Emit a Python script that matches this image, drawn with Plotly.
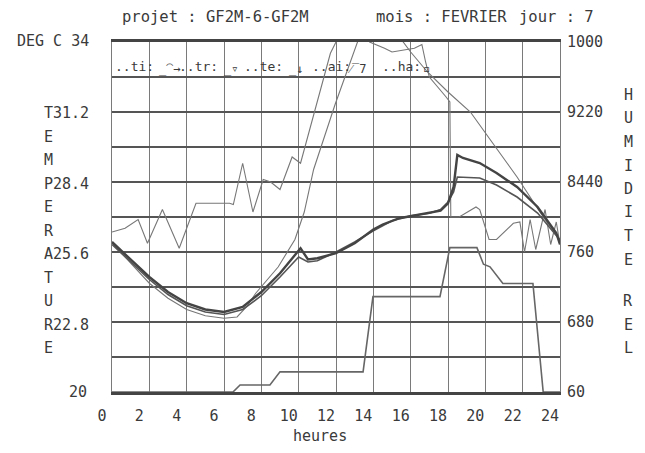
import plotly.graph_objects as go

# ---------------- data ----------------
hours_ti = [0, 1, 2, 3, 4, 5, 6, 7, 8, 9, 10.1, 10.5, 11, 12, 13, 14, 14.5, 15.4, 16.5, 17.6, 18.0, 18.3, 18.5, 18.8, 19.7, 20.6, 21.7, 22.8, 23.8, 24]
ti = [26.0, 25.3, 24.6, 24.0, 23.55, 23.3, 23.2, 23.4, 24.0, 24.75, 25.75, 25.3, 25.35, 25.55, 25.95, 26.5, 26.7, 26.95, 27.1, 27.25, 27.55, 28.2, 29.48, 29.36, 29.16, 28.76, 28.2, 27.4, 26.36, 25.9]

hours_tr = [0, 1, 2, 3, 4, 5, 6, 7, 8, 9, 10, 10.5, 11, 12, 13, 14, 15, 16, 17, 17.6, 18.0, 18.3, 18.5, 19.7, 20.6, 21.7, 22.8, 24]
tr = [25.9, 25.2, 24.5, 23.9, 23.45, 23.2, 23.1, 23.3, 23.85, 24.6, 25.4, 25.2, 25.25, 25.6, 26.0, 26.45, 26.85, 27.05, 27.15, 27.3, 27.6, 28.0, 28.6, 28.56, 28.28, 27.8, 27.16, 26.08]

hours_te = [0, 1, 2, 3, 4, 5, 6, 6.7, 7.2, 7.7, 8.9, 9.8, 10.3, 10.8, 11.95, 13.2, 14.0, 15.0, 16.0, 16.9, 18.0, 19.2, 20.4, 21.7, 23.1, 24]
te = [26.0, 25.15, 24.35, 23.75, 23.3, 23.05, 22.95, 23.0, 23.4, 23.95, 25.0, 26.1, 27.2, 28.9, 31.5, 34.1, 34.5, 34.6, 33.6, 32.8, 32.0, 31.2, 29.95, 28.6, 27.0, 26.1]

hours_ai = [0, 0.7, 1.4, 1.9, 2.7, 3.6, 4.5, 6.3, 6.5, 7.0, 7.55, 8.1, 8.5, 9.0, 9.65, 10.1, 11.7, 12.2, 13.0, 13.8, 14.6, 15.0, 16.2, 16.6, 16.8, 17.0, 17.9, 18.1, 18.15, 18.6, 19.5, 19.7, 20.2, 20.6, 21.5, 21.85, 22.1, 22.4, 22.7, 23.2, 23.5, 23.8, 24.0]
ai = [26.4, 26.55, 26.9, 25.95, 27.3, 25.75, 27.55, 27.55, 27.5, 29.15, 27.2, 28.5, 28.4, 28.1, 29.4, 29.15, 33.55, 34.3, 34.8, 34.0, 33.75, 33.6, 33.75, 33.9, 33.2, 32.6, 31.8, 31.6, 27.0, 27.0, 27.4, 27.3, 26.1, 26.1, 26.75, 26.8, 25.6, 26.9, 25.7, 27.3, 25.9, 26.8, 25.9]

hours_ha = [0, 6.48, 6.86, 8.46, 9.0, 13.45, 13.98, 17.57, 18.1, 19.55, 19.9, 20.25, 20.94, 22.55, 23.1, 24]
ha = [60, 60, 60.8, 60.8, 62.3, 62.3, 70.9, 70.9, 76.5, 76.5, 74.6, 74.3, 72.4, 72.4, 60, 60]

hour_ticks = [0, 2, 4, 6, 8, 10, 12, 14, 16, 18, 20, 22, 24]
hour_labels = ["0", "2", "4", "6", "8", "10", "12", "14", "16", "18", "20", "22", "24"]
temp_grid = [20, 21.4, 22.8, 24.2, 25.6, 27, 28.4, 29.8, 31.2, 32.6, 34]
hum_ticks = [60, 68, 76, 84, 92, 100]
hum_labels = ["60", "680", "760", "8440", "9220", "1000"]
temp_word = "TEMPERATURE"
temp_numbers = {0: "31.2", 3: "28.4", 6: "25.6", 9: "22.8"}
hum_word = "HUMIDITE REL"
legend_labels = ["..ti:", "..tr:", "..te:", "..ai:", "..ha:"]
legend_marks = ["_⁀→", "_▿", "_↓", "⁄‾7", "▫"]

# ---------------- figure ----------------
W, H = 645, 453
L, R, T, B = 112, 85, 42, 61
PW, PH = W - L - R, H - T - B
FONT = "DejaVu Sans Mono"
INK = "#3a3a3a"


def px(x):
    return (x - L) / PW


def py(y):
    return (H - B - y) / PH


fig = go.Figure()
fig.add_trace(go.Scatter(x=hours_ha, y=ha, yaxis="y2", mode="lines",
                         line=dict(color="#666", width=1.6), name="ha"))
fig.add_trace(go.Scatter(x=hours_te, y=te, mode="lines",
                         line=dict(color="#777", width=1.1), name="te"))
fig.add_trace(go.Scatter(x=hours_ai, y=ai, mode="lines",
                         line=dict(color="#777", width=1.1), name="ai"))
fig.add_trace(go.Scatter(x=hours_tr, y=tr, mode="lines",
                         line=dict(color="#555", width=1.6), name="tr"))
fig.add_trace(go.Scatter(x=hours_ti, y=ti, mode="lines",
                         line=dict(color="#444", width=2.4), name="ti"))

ann = []
# title line
for text, x in [("projet : GF2M-6-GF2M", 120), ("mois : FEVRIER", 374), ("jour : 7", 517)]:
    ann.append(dict(text=text, x=px(x), y=py(17), xref="paper", yref="paper",
                    xanchor="left", yanchor="middle", showarrow=False,
                    font=dict(family=FONT, size=15.5, color=INK)))
# left axis text
ann.append(dict(text="DEG C 34", x=px(91), y=py(41), xref="paper", yref="paper",
                xanchor="right", yanchor="middle", showarrow=False,
                font=dict(family=FONT, size=15, color=INK)))
ann.append(dict(text="20", x=px(89), y=py(392), xref="paper", yref="paper",
                xanchor="right", yanchor="middle", showarrow=False,
                font=dict(family=FONT, size=15, color=INK)))
for i, ch in enumerate(temp_word):
    ann.append(dict(text=ch + temp_numbers.get(i, ""), x=px(42), y=py(113 + 23.5 * i),
                    xref="paper", yref="paper", xanchor="left", yanchor="middle",
                    showarrow=False, font=dict(family=FONT, size=15, color=INK)))
# right vertical label
ry = 95
for ch in hum_word:
    if ch == " ":
        ry += 18
        continue
    ann.append(dict(text=ch, x=px(628), y=py(ry), xref="paper", yref="paper",
                    xanchor="center", yanchor="middle", showarrow=False,
                    font=dict(family=FONT, size=15, color=INK)))
    ry += 23.5
# x title
ann.append(dict(text="heures", x=px(320), y=py(436), xref="paper", yref="paper",
                xanchor="center", yanchor="middle", showarrow=False,
                font=dict(family=FONT, size=15, color=INK)))
# in-plot legend
for lab, mk, xl, xm in zip(legend_labels, legend_marks,
                           [113, 177, 242, 310, 380], [157, 222, 287, 345, 421]):
    ann.append(dict(text=lab, x=px(xl), y=py(67), xref="paper", yref="paper",
                    xanchor="left", yanchor="middle", showarrow=False,
                    font=dict(family=FONT, size=13, color=INK)))
    ann.append(dict(text=mk, x=px(xm), y=py(69), xref="paper", yref="paper",
                    xanchor="left", yanchor="middle", showarrow=False,
                    font=dict(family=FONT, size=12, color=INK)))

fig.update_layout(
    width=W, height=H,
    margin=dict(l=L, r=R, t=T, b=B, pad=0),
    paper_bgcolor="white", plot_bgcolor="white",
    showlegend=False,
    hovermode=False,
    annotations=ann,
    xaxis=dict(range=[0, 24], tickmode="array", tickvals=hour_ticks, ticktext=hour_labels,
               showgrid=True, gridcolor="#7a7a7a", gridwidth=1.2,
               showline=True, mirror=True, linecolor="#444", linewidth=2.5,
               zeroline=False, ticks="", ticklabelshift=-10, ticklabelstandoff=8,
               tickfont=dict(family=FONT, size=15, color=INK), automargin=False),
    yaxis=dict(range=[20, 34], tickmode="array", tickvals=temp_grid,
               showticklabels=False, showgrid=True, gridcolor="#555", gridwidth=2,
               showline=True, mirror=True, linecolor="#7a7a7a", linewidth=1.2,
               zeroline=False, ticks="", automargin=False),
    yaxis2=dict(range=[60, 100], overlaying="y", side="right", tickmode="array",
                tickvals=hum_ticks, ticktext=hum_labels, showgrid=False,
                zeroline=False, showline=False, ticks="", ticklabelstandoff=6,
                tickfont=dict(family=FONT, size=15, color=INK), automargin=False),
)

fig.write_html("out.html", config={"displayModeBar": False},
               post_script="document.body.style.margin='0';")
